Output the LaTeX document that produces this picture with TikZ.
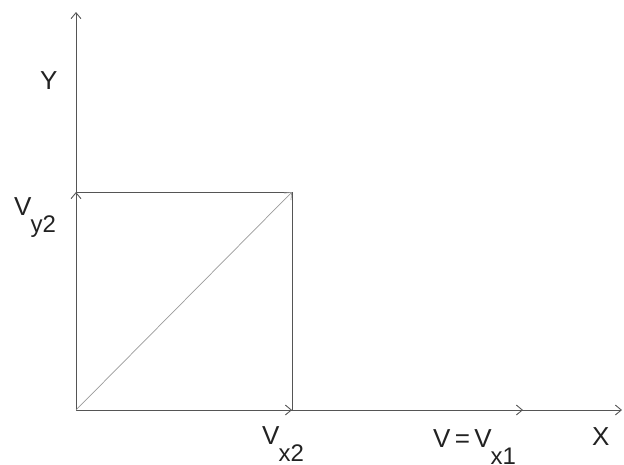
\documentclass[tikz,border=0pt]{standalone}
\usepackage{fontspec}
\setmainfont{Liberation Sans}
\usetikzlibrary{arrows.meta}
\definecolor{cink}{HTML}{222222}
\definecolor{cline}{HTML}{555555}
\definecolor{cdiag}{HTML}{9A9A9A}
\newcommand{\lowidx}[1]{\kern-1pt\raisebox{-17pt}{\fontsize{24}{24}\selectfont #1}}

\begin{document}
\begin{tikzpicture}[x=1pt, y=-1pt,
    lab/.style={inner sep=0pt, anchor=base west, font=\fontsize{26}{30}\selectfont, text=cink},
    vec/.style={-{Straight Barb[length=6pt, width=10pt]}, cline, line width=0.9pt},
    side/.style={cline, line width=0.9pt}]
  \useasboundingbox (0,0) rectangle (624,464);
  \coordinate (O) at (76,410);
  \coordinate (Xend) at (622,410);
  \coordinate (Yend) at (76,12);
  \coordinate (Vx1) at (523,410);
  \coordinate (Vx2) at (292,410);
  \coordinate (Vy2) at (76,192);
  \coordinate (V) at (292,192);

  % axes and components
  \draw[vec] (O) -- (Xend);
  \draw[vec] (O) -- (Yend);
  \draw[vec] (O) -- (Vx1);
  \draw[vec] (O) -- (Vx2);
  \draw[vec] (O) -- (Vy2);
  \draw[side] (Vy2) -- (V) -- (Vx2);
  \draw[vec, cdiag, line width=0.7pt] (O) -- (V);

  \node[lab] (lY) at (40,89) {Y};
  \node[lab] (lVy2) at (14,215) {V\lowidx{y2}};
  \node[lab] (lVx2) at (262,444) {V\lowidx{x2}};
  \node[lab] (lV) at (433,447) {V\,=\,V\lowidx{x1}};
  \node[lab] (lX) at (592,445) {X};
\end{tikzpicture}
\end{document}
